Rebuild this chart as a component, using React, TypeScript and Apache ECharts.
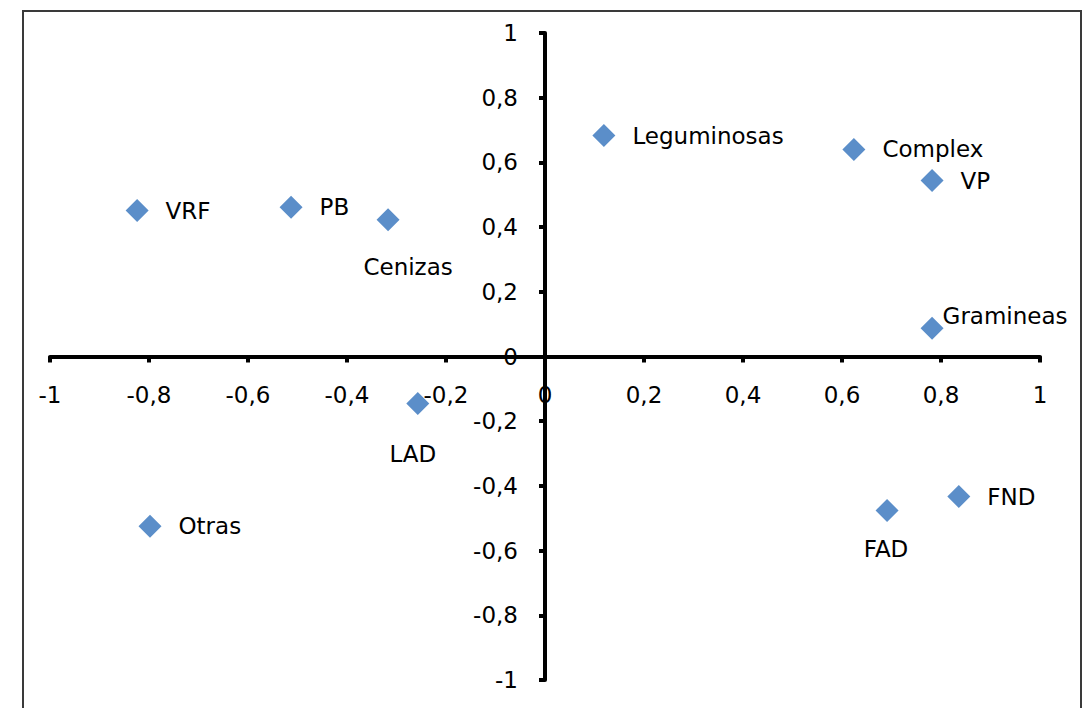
import React, { useEffect, useRef } from "react";
import * as echarts from "echarts";

const names = ["VRF", "PB", "Cenizas", "Leguminosas", "Complex", "VP", "Gramineas", "LAD", "Otras", "FAD", "FND"];
const xValues = [-0.824, -0.513, -0.317, 0.119, 0.624, 0.782, 0.782, -0.257, -0.798, 0.691, 0.836];
const yValues = [0.451, 0.461, 0.423, 0.683, 0.64, 0.544, 0.087, -0.145, -0.525, -0.476, -0.433];

const FONT = "DejaVu Sans";
const FS = 23;

const W = 1090;
const H = 708;
const GRID = { left: 50, right: 50, top: 33, bottom: 28 };

const labelStyles: Record<string, any> = {
  Cenizas: { position: "bottom", distance: 0, offset: [20, 24] },
  LAD: { position: "bottom", distance: 0, offset: [-5, 28] },
  FAD: { position: "bottom", distance: 0, offset: [-1, 16] },
  Gramineas: { position: "right", distance: 0, offset: [-1, -12] },
};

const fmt = (v: number) => {
  const s = Math.round(v * 10) / 10;
  return String(s).replace(".", ",");
};

export default function App() {
  const ref = useRef<HTMLDivElement>(null);
  useEffect(() => {
    const chart = echarts.init(ref.current!, null, { renderer: "svg" });
    const data = names.map((n, i) => {
      const ls = labelStyles[n];
      return {
        name: n,
        value: [xValues[i], yValues[i]],
        label: ls ? { show: true, ...ls } : undefined,
      };
    });
    const plotW = W - GRID.left - GRID.right;
    const plotH = H - GRID.top - GRID.bottom;
    const axisCommon = {
      type: "value",
      min: -1,
      max: 1,
      interval: 0.2,
      splitLine: { show: false },
      axisLine: { show: true, onZero: false, lineStyle: { color: "#000", width: 4 } },
      axisTick: { show: true, inside: false, length: 6, lineStyle: { color: "#000", width: 4 } },
      axisLabel: {
        color: "#000",
        fontFamily: FONT,
        fontSize: FS,
        margin: 27,
        formatter: (v: number) => fmt(v),
      },
    };
    chart.setOption({
      animation: false,
      backgroundColor: "#fff",
      grid: { ...GRID, containLabel: false, outerBoundsMode: "none" },
      xAxis: { ...axisCommon, position: "bottom", offset: -plotH / 2 },
      yAxis: { ...axisCommon, position: "left", offset: -plotW / 2 },
      graphic: [
        {
          type: "rect",
          shape: { x: 23, y: 11, width: 1058, height: 730 },
          style: { fill: "none", stroke: "#3a3a3a", lineWidth: 2 },
          z: -1,
        },
      ],
      series: [
        {
          type: "scatter",
          symbol: "diamond",
          symbolSize: 23,
          itemStyle: { color: "#5b8ec9", opacity: 1 },
          label: {
            show: true,
            position: "right",
            distance: 17,
            formatter: (p: any) => p.name,
            color: "#000",
            opacity: 1,
            fontFamily: FONT,
            fontSize: FS,
          },
          data,
        },
      ],
    });
    return () => chart.dispose();
  }, []);
  return <div ref={ref} style={{ position: "fixed", left: 0, top: 0, width: W, height: H }} />;
}
